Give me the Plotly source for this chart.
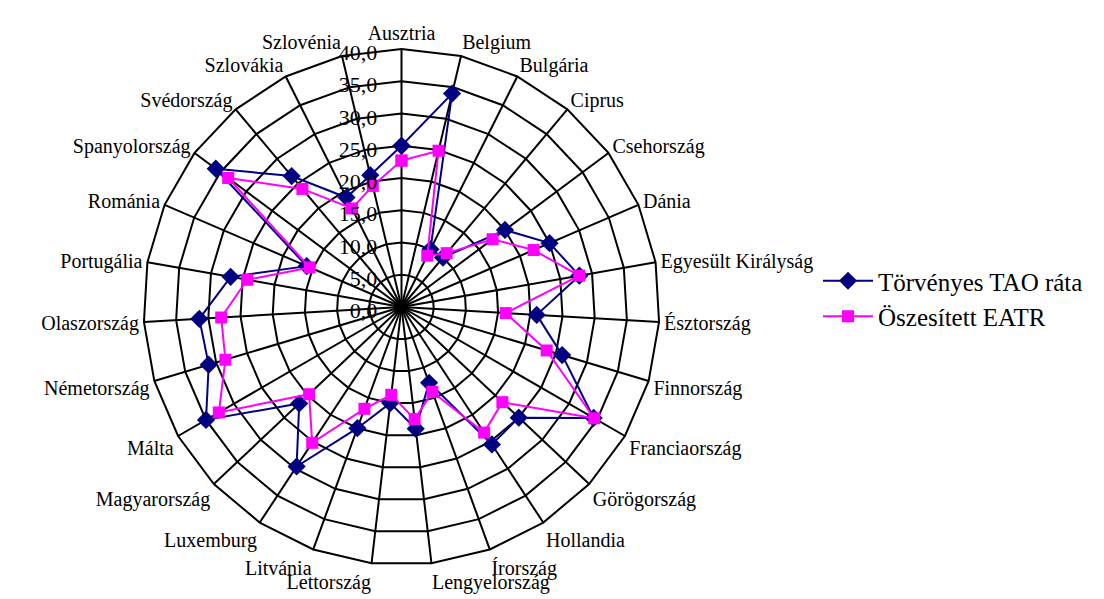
import plotly.graph_objects as go

categories = ["Ausztria", "Belgium", "Bulgária", "Ciprus", "Csehország", "Dánia",
              "Egyesült Királyság", "Észtország", "Finnország", "Franciaország",
              "Görögország", "Hollandia", "Írország", "Lengyelország", "Lettország",
              "Litvánia", "Luxemburg", "Magyarország", "Málta", "Németország",
              "Olaszország", "Portugália", "Románia", "Spanyolország", "Svédország",
              "Szlovákia", "Szlovénia"]

tao = [25.0, 34.0, 10.0, 10.0, 20.0, 25.0, 28.0, 21.0, 26.0, 34.4, 25.0, 25.5, 12.5,
       19.0, 15.0, 20.0, 29.6, 21.8, 35.0, 31.2, 31.4, 26.9, 16.0, 35.9, 26.5, 19.0, 21.0]

eatr = [22.7, 24.9, 8.9, 10.9, 17.6, 22.3, 28.0, 16.2, 23.5, 34.5, 21.5, 23.3, 14.0,
        17.5, 13.7, 16.8, 25.2, 19.7, 32.7, 28.5, 28.0, 24.3, 15.5, 33.5, 23.9, 17.1, 19.3]

radial_ticks = [0, 5, 10, 15, 20, 25, 30, 35, 40]
radial_labels = ["0,0", "5,0", "10,0", "15,0", "20,0", "25,0", "30,0", "35,0", "40,0"]

FONT = "Liberation Serif"

fig = go.Figure()
fig.add_trace(go.Scatterpolar(
    r=tao + tao[:1], theta=categories + categories[:1],
    mode="lines+markers", name="Törvényes TAO ráta",
    line=dict(color="#000080", width=2),
    marker=dict(symbol="diamond", size=14, color="#000080"),
))
fig.add_trace(go.Scatterpolar(
    r=eatr + eatr[:1], theta=categories + categories[:1],
    mode="lines+markers", name="Öszesített EATR",
    line=dict(color="#FF00FF", width=2),
    marker=dict(symbol="square", size=12, color="#FF00FF"),
))

fig.update_layout(
    width=1104, height=599,
    margin=dict(l=0, r=0, t=0, b=0),
    paper_bgcolor="white", plot_bgcolor="white",
    font=dict(family=FONT, size=21, color="black"),
    polar=dict(
        domain=dict(x=[135.5 / 1104, 651.5 / 1104], y=[42 / 599, 558 / 599]),
        bgcolor="white",
        gridshape="linear",
        angularaxis=dict(
            direction="clockwise", rotation=90,
            showline=True, linecolor="black", linewidth=2,
            gridcolor="black", gridwidth=2,
            ticks="inside", ticklen=1, tickcolor="rgba(0,0,0,0)",
            tickfont=dict(family=FONT, size=20, color="black"),
        ),
        radialaxis=dict(
            range=[0, 40], angle=90, side="counterclockwise",
            tickvals=radial_ticks, ticktext=radial_labels,
            showline=False, gridcolor="black", gridwidth=2,
            ticks="outside", ticklen=4, tickcolor="rgba(0,0,0,0)",
            tickfont=dict(family=FONT, size=22, color="black"),
        ),
    ),
    legend=dict(
        x=810 / 1104, y=1 - 250 / 599, xanchor="left", yanchor="top",
        bgcolor="white", font=dict(family=FONT, size=25, color="black"),
        itemwidth=50, tracegroupgap=0,
    ),
)

fig.write_html("out.html")
